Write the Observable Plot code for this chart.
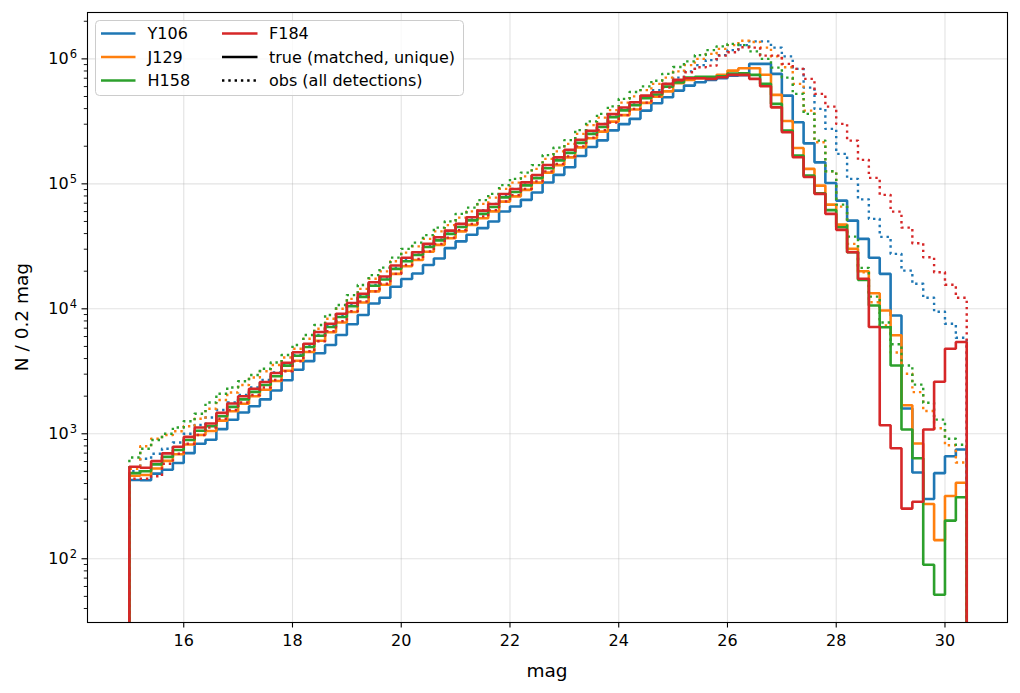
<!DOCTYPE html>
<html>
<head>
<meta charset="utf-8">
<script src="https://cdn.jsdelivr.net/npm/d3@7"></script>
<script src="https://cdn.jsdelivr.net/npm/@observablehq/plot@0.6"></script>
<style>
  body { margin: 0; background: #fff; font-family: "DejaVu Sans", sans-serif; }
  #chart { position: relative; width: 1020px; height: 693px; overflow: hidden; }
  #chart svg.overlay { position: absolute; left: 0; top: 0; pointer-events: none; }
</style>
</head>
<body>
<div id="chart"></div>
<script>
// Magnitude bin edges (0.2 mag bins)
const binEdges = [15.0, 15.2, 15.4, 15.6, 15.8, 16.0, 16.2, 16.4, 16.6, 16.8,
  17.0, 17.2, 17.4, 17.6, 17.8, 18.0, 18.2, 18.4, 18.6, 18.8,
  19.0, 19.2, 19.4, 19.6, 19.8, 20.0, 20.2, 20.4, 20.6, 20.8,
  21.0, 21.2, 21.4, 21.6, 21.8, 22.0, 22.2, 22.4, 22.6, 22.8,
  23.0, 23.2, 23.4, 23.6, 23.8, 24.0, 24.2, 24.4, 24.6, 24.8,
  25.0, 25.2, 25.4, 25.6, 25.8, 26.0, 26.2, 26.4, 26.6, 26.8,
  27.0, 27.2, 27.4, 27.6, 27.8, 28.0, 28.2, 28.4, 28.6, 28.8,
  29.0, 29.2, 29.4, 29.6, 29.8, 30.0, 30.2, 30.4];

const bands = ["Y106", "J129", "H158", "F184"];
const bandColors = ["#1f77b4", "#ff7f0e", "#2ca02c", "#d62728"];

// Counts per bin: true magnitudes (matched, unique sources)
const y106True = [427, 425, 480, 516, 583, 700, 832, 895, 1089, 1294,
  1479, 1663, 1884, 2218, 2685, 3251, 3811, 4406, 5140, 6180,
  7516, 8933, 11040, 12270, 15030, 17300, 19190, 22390, 25290, 30620,
  34670, 39170, 44260, 50000, 60120, 65920, 74470, 85310, 102600, 118000,
  135800, 167100, 197200, 222800, 267900, 300600, 331100, 385500, 441600, 493200,
  557200, 610900, 650100, 679200, 699800, 734500, 741300, 912000, 912000, 758600,
  508200, 311200, 210900, 148600, 101600, 73450, 50820, 36310, 25590, 19050,
  8851, 1592, 490, 301, 484, 661, 748];
const j129True = [461, 468, 527, 607, 685, 822, 977, 1052, 1274, 1514,
  1738, 1995, 2249, 2642, 3199, 3846, 4519, 5559, 6486, 7762,
  9441, 11220, 13800, 15560, 19050, 21880, 24550, 28640, 32510, 36730,
  41690, 46990, 53090, 60260, 72110, 79430, 89540, 102300, 123000, 141300,
  162900, 195900, 231700, 261800, 314800, 354800, 393600, 444600, 498900, 549500,
  638300, 679200, 699800, 707900, 744700, 805400, 841400, 841400, 746400, 515200,
  318400, 193600, 131800, 96830, 68230, 47210, 30200, 20000, 13340, 9705,
  6138, 1690, 836, 274, 141, 318, 406];
const h158True = [484, 501, 569, 653, 741, 891, 1059, 1148, 1380, 1641,
  1884, 2163, 2455, 2884, 3508, 4217, 4955, 6095, 7161, 8610,
  10470, 12450, 15310, 17180, 20890, 23990, 26920, 31260, 35320, 39810,
  45190, 51050, 57540, 65310, 77980, 86100, 97270, 111200, 133400, 154200,
  177000, 212800, 251200, 285100, 341200, 387300, 426600, 484200, 518800, 599800,
  648600, 707900, 717800, 717800, 724400, 763800, 767400, 744700, 631000, 436500,
  266700, 168300, 116400, 84140, 61660, 44980, 28380, 17060, 10620, 7129,
  3516, 1081, 638, 89.5, 51.5, 202, 311];
const f184True = [545, 535, 604, 697, 787, 944, 1122, 1208, 1469, 1746,
  1995, 2296, 2600, 3062, 3707, 4487, 5260, 6516, 7603, 9141,
  11120, 13210, 16330, 18160, 22230, 25590, 28380, 33110, 37410, 42270,
  47860, 54080, 61090, 69020, 82990, 90990, 102800, 117800, 141600, 162900,
  187500, 225400, 266100, 300600, 361400, 408300, 449800, 508200, 540800, 631000,
  679200, 699800, 699800, 691800, 712900, 744700, 744700, 691800, 603900, 409300,
  258800, 163300, 113500, 83180, 57540, 42850, 28380, 17380, 7145, 1169,
  766, 252, 286, 1081, 2606, 4797, 5420];

// Counts per bin: observed magnitudes (all detections)
const y106Obs = [501, 631, 692, 759, 851, 1000, 1175, 1349, 1549, 1778,
  2042, 2344, 2692, 3090, 3631, 4266, 5129, 6166, 7413, 8913,
  10720, 12880, 15490, 17780, 21380, 25120, 28180, 32360, 37150, 41690,
  47860, 53700, 61660, 69180, 81280, 91200, 102300, 117500, 141300, 162200,
  186200, 223900, 263000, 302000, 346700, 398100, 446700, 501200, 562300, 631000,
  707900, 794300, 891300, 977200, 1072000, 1175000, 1288000, 1380000, 1380000, 1230000,
  1047000, 831800, 588800, 398100, 275400, 173800, 109600, 75160, 52480, 37670,
  27540, 20230, 15850, 12250, 9462, 7586, 5861];
const j129Obs = [525, 794, 912, 977, 1047, 1148, 1318, 1585, 1862, 2138,
  2455, 2818, 3162, 3548, 4074, 4786, 5754, 6918, 8318, 10000,
  12020, 14450, 17380, 19950, 23990, 28180, 31620, 36310, 41690, 46770,
  53700, 60260, 69180, 77620, 91200, 102300, 114800, 131800, 158500, 182000,
  208900, 251200, 295100, 338800, 389000, 446700, 501200, 562300, 631000, 707900,
  794300, 891300, 1000000, 1096000, 1202000, 1288000, 1396000, 1365000, 1230000, 1047000,
  857000, 631000, 385500, 215300, 125900, 65770, 33110, 19630, 11300, 7345,
  4467, 3020, 2153, 1521, 1107, 809, 589];
const h158Obs = [646, 759, 891, 1000, 1122, 1259, 1445, 1778, 2089, 2344,
  2630, 2951, 3311, 3715, 4266, 5129, 6166, 7413, 8913, 10720,
  12880, 15490, 18620, 21380, 25700, 30200, 33880, 38900, 44670, 50120,
  57540, 64570, 74130, 83180, 97720, 109600, 123000, 141300, 169800, 195000,
  223900, 269200, 316200, 363100, 416900, 478600, 543300, 602600, 668300, 758600,
  861000, 955000, 1072000, 1175000, 1259000, 1318000, 1288000, 1148000, 1000000, 851100,
  707900, 524800, 363100, 221800, 126200, 68230, 37840, 21280, 12530, 7762,
  5212, 3516, 2472, 1770, 1297, 912, 818];
const f184Obs = [437, 437, 457, 575, 692, 832, 977, 1122, 1318, 1549,
  1778, 2042, 2344, 2692, 3162, 3802, 4571, 5495, 6607, 7943,
  9550, 11480, 13800, 15850, 19050, 22390, 25120, 28840, 33110, 37150,
  42660, 47860, 54950, 61660, 72440, 81280, 91200, 104700, 125900, 144500,
  166000, 199500, 234400, 269200, 309000, 354800, 398100, 446700, 501200, 588800,
  669900, 781600, 857000, 883100, 1062000, 1130000, 1239000, 1230000, 1062000, 1062000,
  912000, 831800, 691800, 524800, 415000, 302000, 221800, 155600, 111700, 81660,
  59980, 44670, 33500, 25880, 19630, 15600, 12250];

const xTicks = [16, 18, 20, 22, 24, 26, 28, 30];
const yTicks = [1e2, 1e3, 1e4, 1e5, 1e6];
const yTickExponents = ["2", "3", "4", "5", "6"];
const kindLabels = ["true (matched, unique)", "obs (all detections)"];
const xLabel = "mag";
const yLabel = "N / 0.2 mag";

const seriesTrue = [y106True, j129True, h158True, f184True];
const seriesObs = [y106Obs, j129Obs, h158Obs, f184Obs];

const yDomain = [30.9, 2.35e6];
const FLOOR = 1; // step outline drops below the axis and is clipped by the frame

// Build a step-histogram outline (drops to the floor at both ends)
function outline(counts) {
  const last = counts.length;
  const pts = [{mag: binEdges[0], n: FLOOR}];
  counts.forEach((n, i) => pts.push({mag: binEdges[i], n}));
  pts.push({mag: binEdges[last], n: counts[last - 1]});
  pts.push({mag: binEdges[last], n: FLOOR});
  return pts;
}

// Minor log ticks (2..9 x 10^k) inside the visible range
const yMinor = [];
for (let k = 1; k <= 6; k++) for (let m = 2; m <= 9; m++) {
  const v = m * Math.pow(10, k);
  if (v >= yDomain[0] && v <= yDomain[1]) yMinor.push(v);
}

const gridStyle = {stroke: "#b0b0b0", strokeOpacity: 0.35, strokeWidth: 1.1};

const histMarks = [];
bands.forEach((b, i) => {
  histMarks.push(Plot.line(outline(seriesTrue[i]), {
    x: "mag", y: "n", stroke: bandColors[i], strokeWidth: 2.6,
    curve: "step-after", clip: true, strokeLinejoin: "miter", strokeLinecap: "square"
  }));
  histMarks.push(Plot.line(outline(seriesObs[i]), {
    x: "mag", y: "n", stroke: bandColors[i], strokeWidth: 2.4,
    curve: "step-after", clip: true, strokeDasharray: "2.4,3.9", strokeLinecap: "butt"
  }));
});

const chart = Plot.plot({
  width: 1020,
  height: 693,
  marginLeft: 87,
  marginRight: 13,
  marginTop: 12,
  marginBottom: 71,
  style: {fontFamily: "DejaVu Sans", fontSize: "16px", color: "#000", background: "#fff"},
  x: {type: "linear", domain: [14.23, 31.15]},
  y: {type: "log", domain: yDomain},
  marks: [
    Plot.gridX(xTicks, gridStyle),
    Plot.gridY(yTicks, gridStyle),
    ...histMarks,
    Plot.axisX(xTicks, {tickSize: 5.5, tickPadding: 7, label: null, tickFormat: d => String(d), strokeWidth: 1.1}),
    Plot.axisY(yTicks, {tickSize: 5.5, tickPadding: 5, label: null,
      tickFormat: d => "10^" + yTickExponents[yTicks.indexOf(d)], strokeWidth: 1.1}),
    Plot.axisY(yMinor, {tickSize: 3.2, label: null, tickFormat: () => "", strokeWidth: 0.9}),
    Plot.frame({stroke: "#000", strokeWidth: 1.1})
  ]
});

const root = document.getElementById("chart");
root.appendChild(chart);

// Typeset the power-of-ten tick labels with a raised exponent
d3.select(chart).selectAll("text").each(function() {
  const t = d3.select(this);
  const s = t.text();
  const m = /^10\^(\d+)$/.exec(s);
  if (!m) return;
  t.text(null);
  t.append("tspan").text("10");
  t.append("tspan").attr("font-size", "11.5px").attr("dy", "-0.55em").attr("dx", "1").text(m[1]);
});

// Axis titles and legend overlay
const NS = "http://www.w3.org/2000/svg";
const ov = d3.select(root).append("svg")
  .attr("class", "overlay").attr("xmlns", NS)
  .attr("width", 1020).attr("height", 693)
  .style("font-family", "DejaVu Sans").style("font-size", "16px");

ov.append("text").attr("x", 547).attr("y", 671).attr("text-anchor", "middle")
  .attr("dy", "0.35em").attr("fill", "#000").style("font-size", "18.5px").text(xLabel);
ov.append("text").attr("transform", "translate(22,317) rotate(-90)")
  .attr("text-anchor", "middle").attr("dy", "0.35em").attr("fill", "#000")
  .style("font-size", "18.5px").text(yLabel);

const lg = ov.append("g");
lg.append("rect").attr("x", 95.5).attr("y", 20.5).attr("width", 368).attr("height", 75)
  .attr("rx", 4).attr("fill", "#fff").attr("fill-opacity", 0.8).attr("stroke", "#cccccc");

const rows = [33.5, 57, 80.5];
const cols = [{x0: 101, x1: 135.5, tx: 147.5}, {x0: 222, x1: 257.5, tx: 269}];
const entries = [
  ...bands.map((b, i) => ({label: b, color: bandColors[i], dash: null})),
  {label: kindLabels[0], color: "#000", dash: null},
  {label: kindLabels[1], color: "#000", dash: "2.4,3.9"}
];
entries.forEach((e, k) => {
  const c = cols[Math.floor(k / 3)], y = rows[k % 3];
  const ln = lg.append("line").attr("x1", c.x0).attr("x2", c.x1).attr("y1", y).attr("y2", y)
    .attr("stroke", e.color).attr("stroke-width", e.dash ? 2.4 : 2.6);
  if (e.dash) ln.attr("stroke-dasharray", e.dash).attr("stroke-linecap", "butt");
  lg.append("text").attr("x", c.tx).attr("y", y).attr("dy", "0.35em")
    .attr("fill", "#000").text(e.label);
});
</script>
</body>
</html>
